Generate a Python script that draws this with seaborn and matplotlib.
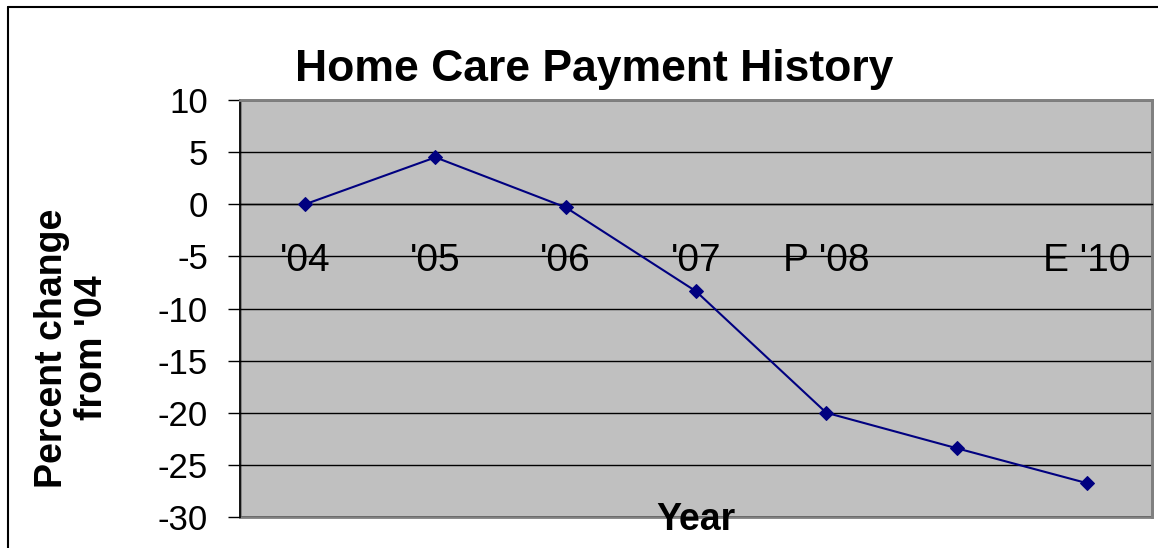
import matplotlib
matplotlib.use("Agg")
import matplotlib.pyplot as plt
import seaborn as sns
import pandas as pd
from matplotlib.patches import Rectangle
from matplotlib.lines import Line2D
from matplotlib.ticker import FixedLocator

# ---- data ----
years = ["'04", "'05", "'06", "'07", "P '08", "", "E '10"]
pct_change = [0.0, 4.5, -0.3, -8.35, -20.0, -23.4, -26.75]
y_ticks = [10, 5, 0, -5, -10, -15, -20, -25, -30]

title_text = "Home Care Payment History"
ylabel_text = "Percent change\nfrom '04"
xlabel_text = "Year"

sns.set_style("white")
plt.rcParams["font.family"] = ["Liberation Sans", "DejaVu Sans"]
plt.rcParams["axes.unicode_minus"] = False
plt.rcParams["text.color"] = "black"
plt.rcParams["axes.labelcolor"] = "black"
plt.rcParams["xtick.color"] = "black"
plt.rcParams["ytick.color"] = "black"

df = pd.DataFrame({"pos": range(len(years)), "label": years, "value": pct_change})

fig = plt.figure(figsize=(11.58, 5.48), dpi=100)
fig.patch.set_facecolor("white")
ax = fig.add_axes([240 / 1158, 1 - 517 / 548, 912 / 1158, 417 / 548])
ax.set_facecolor("#C0C0C0")

sns.lineplot(data=df, x="pos", y="value", ax=ax, color="#000080", lw=1.5,
             marker="D", markersize=7, markeredgecolor="#000080", zorder=5)

ax.set_xlim(-0.5, len(years) - 0.5)
ax.set_ylim(min(y_ticks), max(y_ticks))
ax.set_yticks(y_ticks)
ax.set_yticklabels([str(t) for t in y_ticks])

# category labels at centres, tick marks at boundaries
ax.xaxis.set_major_locator(FixedLocator(list(range(len(years)))))
ax.set_xticklabels(years)
ax.xaxis.set_minor_locator(FixedLocator([i + 0.5 for i in range(-1, len(years))]))
ax.tick_params(axis="x", which="major", length=0, pad=28, labelsize=28, labelcolor="black")
ax.tick_params(axis="x", which="minor", length=9, width=1, direction="out", color="black")
ax.tick_params(axis="y", which="major", length=9, width=1, direction="out",
               color="black", pad=14, labelsize=25, left=True, labelcolor="black")

ax.yaxis.grid(True, color="black", lw=1)
ax.set_axisbelow(True)

for s in ["top", "right"]:
    ax.spines[s].set_color("#808080")
    ax.spines[s].set_linewidth(2)
ax.spines["left"].set_color("black")
ax.spines["left"].set_linewidth(1.2)
ax.spines["bottom"].set_position(("data", 0))
ax.spines["bottom"].set_color("black")
ax.spines["bottom"].set_linewidth(1)
ax.add_patch(Rectangle((0, 0), 1, 1, transform=ax.transAxes, fill=False,
                       edgecolor="#808080", lw=2, zorder=0.5, clip_on=False))

ax.set_ylabel(ylabel_text, fontsize=27, fontweight="bold", linespacing=1.15, color="black")
ax.yaxis.set_label_coords(-0.142, 0.405)
ax.set_xlabel(xlabel_text, fontsize=27, fontweight="bold", color="black")
ax.xaxis.set_label_coords(0.5, 0.037)

fig.text(594 / 1158, 1 - 81 / 548, title_text, fontsize=32, fontweight="bold",
         ha="center", va="baseline", color="black")

# outer chart frame (partially visible)
fig.add_artist(Line2D([8 / 1158, 8 / 1158], [-0.1, 1 - 7 / 548], color="black", lw=1.5,
                      transform=fig.transFigure))
fig.add_artist(Line2D([8 / 1158, 1.1], [1 - 7 / 548, 1 - 7 / 548], color="black", lw=1.5,
                      transform=fig.transFigure))

fig.savefig("out.png", dpi=100)
